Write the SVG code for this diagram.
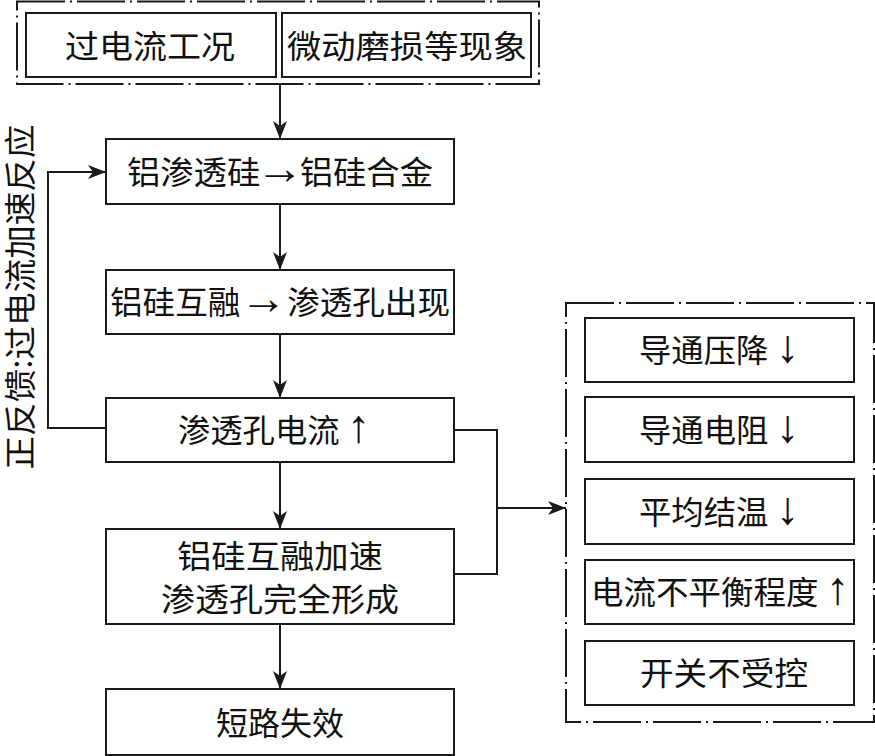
<svg xmlns="http://www.w3.org/2000/svg" width="875" height="756" viewBox="0 0 875 756">
<style>
.box{fill:#fff;stroke:#1a1a1a;stroke-width:2}
.grp{fill:none;stroke:#1a1a1a;stroke-width:2;stroke-dasharray:48 5 2 5}
.ln{fill:none;stroke:#1a1a1a;stroke-width:2}
text{font-family:"Noto Sans CJK SC","Noto Sans CJK JP",sans-serif;font-size:32px;fill:#111;text-anchor:middle}
.ar{font-family:"Liberation Serif","DejaVu Serif",serif;font-size:46px}
</style>
<defs>
<marker id="ah" markerUnits="userSpaceOnUse" markerWidth="20" markerHeight="16" viewBox="0 -8 20 16" refX="18" refY="0" orient="auto">
<path d="M0,-7 L18,0 L0,7 L5,0 Z" fill="#1a1a1a"/>
</marker>
</defs>
<rect class="grp" x="17" y="1.5" width="522" height="82.5"/>
<rect class="grp" x="566" y="303" width="308" height="419"/>
<g id="n_overcurrent"><rect class="box" x="26" y="13" width="250" height="64"/><text x="150" y="58" textLength="170" lengthAdjust="spacingAndGlyphs">过电流工况</text></g>
<g id="n_fretting"><rect class="box" x="282" y="13" width="249" height="64"/><text x="407" y="58" textLength="240" lengthAdjust="spacingAndGlyphs">微动磨损等现象</text></g>
<g id="n_alsi_alloy"><rect class="box" x="106" y="139" width="348" height="65"/><text x="280" y="184" textLength="306" lengthAdjust="spacingAndGlyphs">铝渗透硅<tspan class="ar" dx="-4">→</tspan><tspan dx="-4">铝硅合金</tspan></text></g>
<g id="n_pores"><rect class="box" x="106" y="270" width="348" height="64"/><text x="280" y="314" textLength="340" lengthAdjust="spacingAndGlyphs">铝硅互融<tspan class="ar">→</tspan>渗透孔出现</text></g>
<g id="n_pore_current"><rect class="box" x="106" y="398" width="348" height="64"/><text x="274" y="442" textLength="192" lengthAdjust="spacingAndGlyphs">渗透孔电流 <tspan class="ar">↑</tspan></text></g>
<g id="n_accel"><rect class="box" x="106" y="529" width="348" height="95"/><text x="280" y="568" textLength="206" lengthAdjust="spacingAndGlyphs">铝硅互融加速</text><text x="280" y="611" textLength="238" lengthAdjust="spacingAndGlyphs">渗透孔完全形成</text></g>
<g id="n_short"><rect class="box" x="106" y="689" width="348" height="66"/><text x="280" y="735">短路失效</text></g>
<g id="n_vdrop"><rect class="box" x="585" y="318" width="269" height="64"/><text x="719" y="362" textLength="160" lengthAdjust="spacingAndGlyphs">导通压降 <tspan class="ar">↓</tspan></text></g>
<g id="n_res"><rect class="box" x="585" y="397" width="269" height="65"/><text x="719" y="442" textLength="160" lengthAdjust="spacingAndGlyphs">导通电阻 <tspan class="ar">↓</tspan></text></g>
<g id="n_temp"><rect class="box" x="585" y="479" width="269" height="65"/><text x="719" y="524" textLength="160" lengthAdjust="spacingAndGlyphs">平均结温 <tspan class="ar">↓</tspan></text></g>
<g id="n_imbalance"><rect class="box" x="585" y="560" width="269" height="64"/><text x="720" y="604" textLength="258" lengthAdjust="spacingAndGlyphs">电流不平衡程度 <tspan class="ar">↑</tspan></text></g>
<g id="n_uncontrolled"><rect class="box" x="585" y="641" width="269" height="64"/><text x="724" y="685" textLength="168" lengthAdjust="spacingAndGlyphs">开关不受控</text></g>
<g id="label_feedback"><text transform="translate(21,297) rotate(-90)" y="11" textLength="345" lengthAdjust="spacingAndGlyphs">正反馈:过电流加速反应</text></g>
<g id="connectors">
<line class="ln" x1="280" y1="84" x2="280" y2="139" marker-end="url(#ah)"/>
<line class="ln" x1="280" y1="204" x2="280" y2="270" marker-end="url(#ah)"/>
<line class="ln" x1="280" y1="334" x2="280" y2="398" marker-end="url(#ah)"/>
<line class="ln" x1="280" y1="462" x2="280" y2="529" marker-end="url(#ah)"/>
<line class="ln" x1="280" y1="624" x2="280" y2="689" marker-end="url(#ah)"/>
<polyline class="ln" points="106,428 48,428 48,172 106,172" marker-end="url(#ah)"/>
<polyline class="ln" points="454,430 497,430 497,574 454,574"/>
<line class="ln" x1="497" y1="508" x2="566" y2="508" marker-end="url(#ah)"/>
</g>
</svg>
